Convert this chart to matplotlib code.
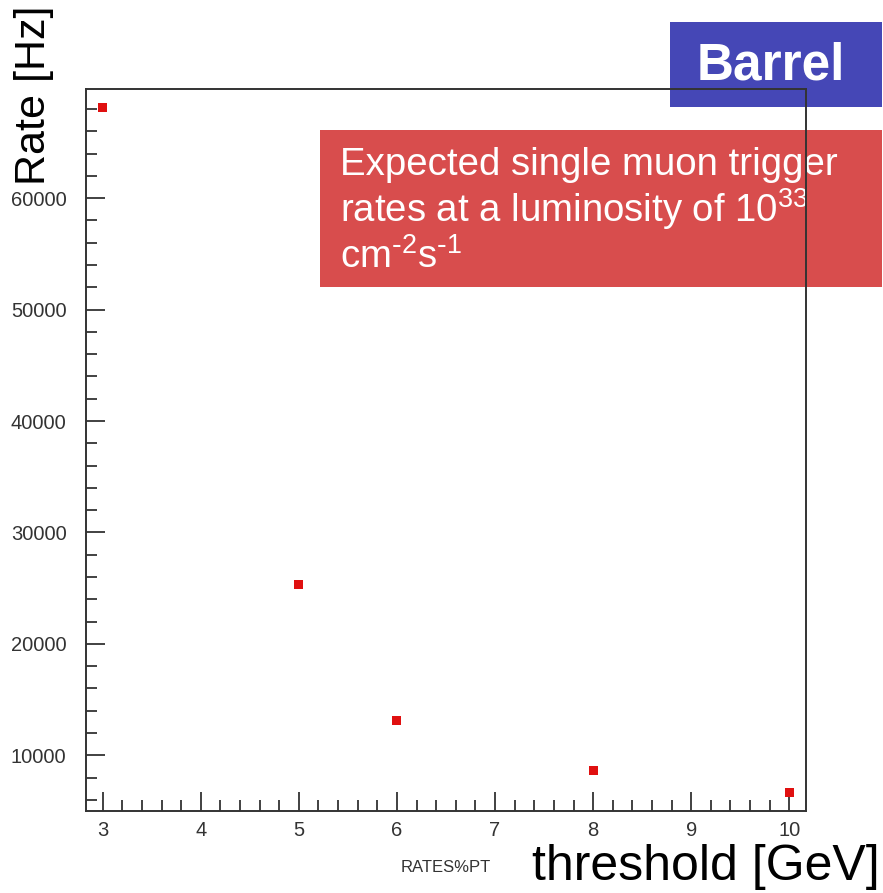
import matplotlib
matplotlib.use("Agg")
import matplotlib.pyplot as plt
from matplotlib.patches import Rectangle
from matplotlib.ticker import MultipleLocator

plt.rcParams['font.family'] = ['Liberation Sans', 'DejaVu Sans']

thresholds = [3, 5, 6, 8, 10]
rates = [68180, 25360, 13140, 8650, 6680]
x_ticks = [3, 4, 5, 6, 7, 8, 9, 10]
y_ticks = [10000, 20000, 30000, 40000, 50000, 60000]

W, H = 883, 893
fig = plt.figure(figsize=(W / 100, H / 100), dpi=100)
fig.patch.set_facecolor('white')

ax = fig.add_axes([86 / W, 1 - 811 / H, (806 - 86) / W, (811 - 89) / H])
ax.set_zorder(5)
ax.patch.set_alpha(0)

ax.scatter(thresholds, rates, marker='s', s=42, color='#e01010', edgecolors='none', zorder=3)

ax.set_xlim(2.83, 10.17)
ax.set_ylim(5000, 69800)
ax.set_xticks(x_ticks)
ax.set_yticks(y_ticks)
ax.xaxis.set_minor_locator(MultipleLocator(0.2))
ax.yaxis.set_minor_locator(MultipleLocator(2000))
ax.tick_params(which='both', direction='in', color='#333333', width=1.3,
               top=False, right=False, labelsize=14.5, labelcolor='#333333')
ax.tick_params(which='major', length=14)
ax.tick_params(which='minor', length=8)
ax.tick_params(axis='x', pad=7)
ax.tick_params(axis='y', pad=14)
for s in ax.spines.values():
    s.set_color('#333333')
    s.set_linewidth(1.4)

# Boxes
fig.add_artist(Rectangle((670 / W, 1 - 107 / H), (882 - 670) / W, (107 - 22) / H,
                         transform=fig.transFigure, facecolor='#4547b6', edgecolor='none', zorder=1))
fig.add_artist(Rectangle((320 / W, 1 - 287 / H), (882 - 320) / W, (287 - 130) / H,
                         transform=fig.transFigure, facecolor='#d84d4d', edgecolor='none', zorder=1))

fig.text(771 / W, 1 - 66 / H, 'Barrel', color='white', fontsize=37, fontweight='bold',
         ha='center', va='center', zorder=2)
fig.text(340 / W, 1 - 175 / H, 'Expected single muon trigger',
         color='white', fontsize=27.6, ha='left', va='baseline', zorder=2)
fig.text(340 / W, 1 - 222 / H, r'rates at a luminosity of $\mathregular{10^{33}}$',
         color='white', fontsize=27.6, ha='left', va='baseline', zorder=2)
fig.text(340 / W, 1 - 268 / H, r'$\mathregular{cm^{\text{-}2}s^{\text{-}1}}$',
         color='white', fontsize=27.6, ha='left', va='baseline', zorder=2)

fig.text(34 / W, 1 - 95 / H, 'Rate [Hz]', rotation=90, fontsize=31, ha='center', va='center')
fig.text(880 / W, 1 - 867 / H, 'threshold [GeV]', fontsize=36, ha='right', va='center')
fig.text(446 / W, 1 - 868 / H, 'RATES%PT', fontsize=12, color='#333333', ha='center', va='center')

fig.savefig('out.png', dpi=100)
